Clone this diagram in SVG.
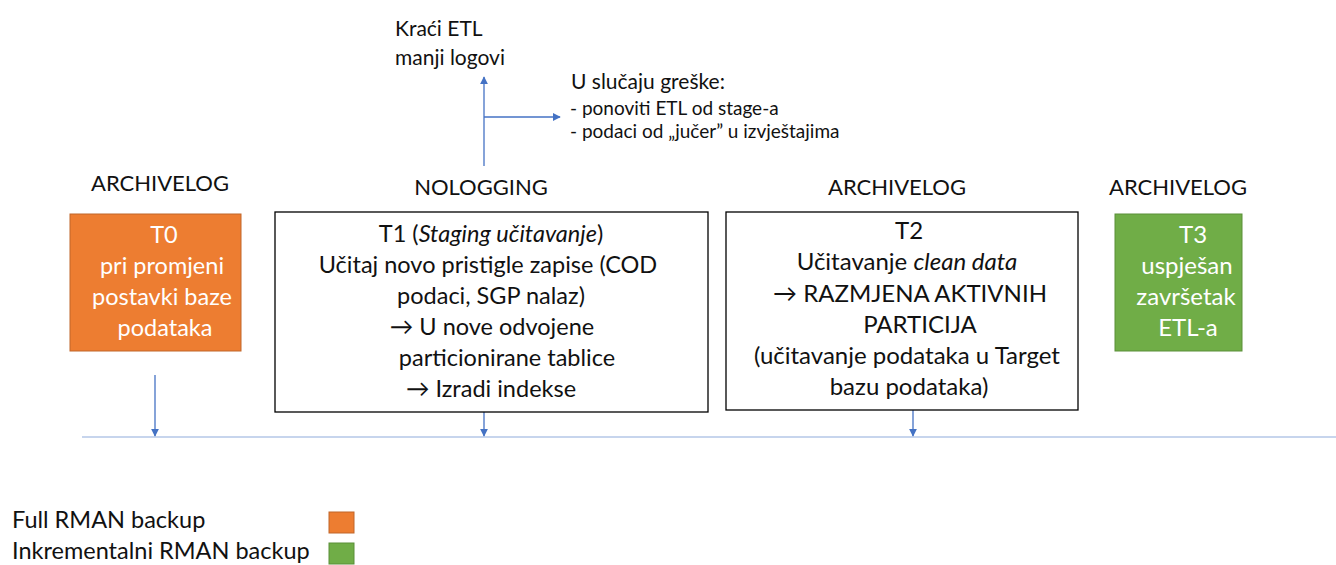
<svg xmlns="http://www.w3.org/2000/svg" width="1336" height="565" viewBox="0 0 1336 565">
  <defs>
    <marker id="arrow" viewBox="0 0 10 10" refX="9" refY="5" markerWidth="8" markerHeight="8" markerUnits="userSpaceOnUse" orient="auto">
      <path d="M0,0 L10,5 L0,10 Z" fill="#4472C4"/>
    </marker>
    <style>
      text { font-family: Lato, "Liberation Sans", sans-serif; fill: #111; }
      .mode { font-size: 22px; text-anchor: middle; }
      .box { font-size: 23.5px; text-anchor: middle; }
      .wide { font-size: 24px; }
      .light { fill: #fff; }
      .note { font-size: 21px; }
      .small { font-size: 19px; }
      .legend { font-size: 23.5px; }
      .plain { fill: #fff; stroke: #000; stroke-width: 1.3; }
      .full { fill: #ED7D31; stroke: #C0662A; stroke-width: 1; }
      .incr { fill: #70AD47; stroke: #5A8F38; stroke-width: 1; }
      .link { stroke: #4472C4; stroke-width: 1.3; fill: none; }
      .axis { stroke: #C7D5ED; stroke-width: 2; fill: none; }
    </style>
  </defs>

  <rect width="1336" height="565" fill="#fff"/>

  <!-- timeline and connectors -->
  <g id="connectors">
    <line class="axis" x1="82" y1="437" x2="1336" y2="437"/>
    <line class="link" x1="155" y1="375" x2="155" y2="436" marker-end="url(#arrow)"/>
    <line class="link" x1="484" y1="412" x2="484" y2="436" marker-end="url(#arrow)"/>
    <line class="link" x1="913" y1="410" x2="913" y2="436" marker-end="url(#arrow)"/>
    <line class="link" x1="484" y1="166" x2="484" y2="77" marker-end="url(#arrow)"/>
    <line class="link" x1="484" y1="117" x2="560" y2="117" marker-end="url(#arrow)"/>
  </g>

  <!-- notes above the staging step -->
  <g id="note-benefit">
    <text class="note" x="395" y="36">Kraći ETL</text>
    <text class="note" x="395" y="65">manji logovi</text>
  </g>
  <g id="note-error">
    <text class="note" x="571" y="89">U slučaju greške:</text>
    <text class="small" x="570" y="115">- ponoviti ETL od stage-a</text>
    <text class="small" x="570" y="138">- podaci od „jučer” u izvještajima</text>
  </g>

  <!-- T0 -->
  <g id="t0">
    <text class="mode" x="160" y="191">ARCHIVELOG</text>
    <rect class="full" x="70" y="214" width="171" height="137"/>
    <text class="box light" x="164" y="243">T0</text>
    <text class="box light" x="162" y="274">pri promjeni</text>
    <text class="box light" x="162" y="305">postavki baze</text>
    <text class="box light" x="165" y="336">podataka</text>
  </g>

  <!-- T1 -->
  <g id="t1">
    <text class="mode" x="481" y="195">NOLOGGING</text>
    <rect class="plain" x="275" y="212" width="433" height="200"/>
    <text class="box" x="491" y="242">T1 (<tspan font-style="italic">Staging učitavanje</tspan>)</text>
    <text class="box" x="488" y="273">Učitaj novo pristigle zapise (COD</text>
    <text class="box" x="491" y="304">podaci, SGP nalaz)</text>
    <text class="box" x="492" y="335">→ U nove odvojene</text>
    <text class="box" x="507" y="366">particionirane tablice</text>
    <text class="box" x="491" y="397">→ Izradi indekse</text>
  </g>

  <!-- T2 -->
  <g id="t2">
    <text class="mode" x="897" y="195">ARCHIVELOG</text>
    <rect class="plain" x="726" y="212" width="352" height="198"/>
    <text class="box wide" x="909" y="239">T2</text>
    <text class="box wide" x="907" y="270">Učitavanje <tspan font-style="italic">clean data</tspan></text>
    <text class="box wide" x="910" y="302">→ RAZMJENA AKTIVNIH</text>
    <text class="box wide" x="920" y="333">PARTICIJA</text>
    <text class="box wide" x="907" y="364">(učitavanje podataka u Target</text>
    <text class="box wide" x="909" y="395">bazu podataka)</text>
  </g>

  <!-- T3 -->
  <g id="t3">
    <text class="mode" x="1178" y="195">ARCHIVELOG</text>
    <rect class="incr" x="1115" y="214" width="127" height="137"/>
    <text class="box wide light" x="1193" y="243">T3</text>
    <text class="box wide light" x="1187" y="274">uspješan</text>
    <text class="box wide light" x="1186" y="305">završetak</text>
    <text class="box wide light" x="1188" y="336">ETL-a</text>
  </g>

  <!-- legend -->
  <g id="legend">
    <text class="legend" x="12" y="528">Full RMAN backup</text>
    <rect class="full" x="329" y="512" width="25" height="21"/>
    <text class="legend" x="12" y="559">Inkrementalni RMAN backup</text>
    <rect class="incr" x="329" y="543" width="25" height="21"/>
  </g>
</svg>
